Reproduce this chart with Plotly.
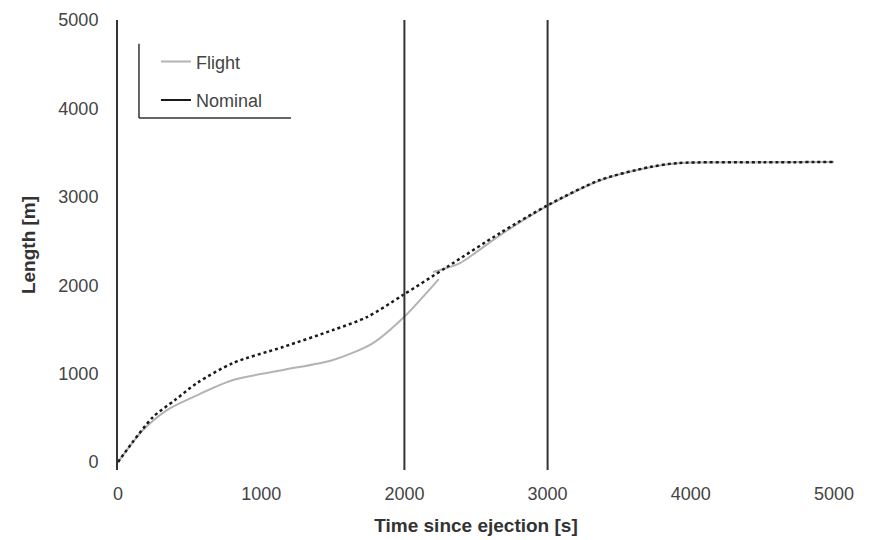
import plotly.graph_objects as go

# Data
nominal_t = [0, 100, 244, 398, 552, 803, 1152, 1501, 1739, 1990, 2297, 2668, 3003, 3366, 3715, 3911, 4500, 5000]
nominal_len = [0, 220, 509, 701, 894, 1120, 1301, 1493, 1640, 1889, 2206, 2590, 2907, 3190, 3337, 3382, 3390, 3394]

flight_t = [0, 175, 342, 524, 803, 1152, 1501, 1781, 1990, 2240, None, 2200, 2388, 2493, 2700, 3003, 3366, 3715, 3911, 4500, 5000]
flight_len = [0, 362, 588, 735, 928, 1041, 1154, 1346, 1629, 2070, None, 2150, 2251, 2364, 2600, 2900, 3185, 3335, 3380, 3390, 3394]

event_times = [2000, 3000]
x_ticks = [0, 1000, 2000, 3000, 4000, 5000]
y_ticks = [0, 1000, 2000, 3000, 4000, 5000]

FONT = "Liberation Sans, Arial, sans-serif"
FLIGHT_COLOR = "#b3b3b3"
NOMINAL_COLOR = "#1a1a1a"

fig = go.Figure()
fig.add_trace(go.Scatter(
    x=flight_t, y=flight_len, mode="lines", name="Flight", showlegend=False,
    line=dict(color=FLIGHT_COLOR, width=2, shape="spline", smoothing=0.8), connectgaps=False,
))
fig.add_trace(go.Scatter(
    x=nominal_t, y=nominal_len, mode="lines", name="Nominal", showlegend=False,
    line=dict(color=NOMINAL_COLOR, width=2.5, dash="dot", shape="spline", smoothing=0.8),
))
# legend entries (solid samples as in the reference)
fig.add_trace(go.Scatter(x=[None], y=[None], mode="lines", name="Flight",
                         line=dict(color=FLIGHT_COLOR, width=2), legendgroup="f"))
fig.add_trace(go.Scatter(x=[None], y=[None], mode="lines", name="Nominal",
                         line=dict(color=NOMINAL_COLOR, width=2), legendgroup="n"))

for t in event_times:
    fig.add_shape(type="line", xref="x", yref="paper", x0=t, x1=t, y0=0, y1=1,
                  line=dict(color="#333333", width=2))

# legend frame lines (left and bottom)
fig.add_shape(type="line", xref="paper", yref="paper", x0=0.0293, x1=0.0293, y0=0.782, y1=0.947,
              line=dict(color="#333333", width=1.5))
fig.add_shape(type="line", xref="paper", yref="paper", x0=0.0293, x1=0.2416, y0=0.782, y1=0.782,
              line=dict(color="#333333", width=1.5))

fig.update_layout(
    width=869, height=540,
    margin=dict(l=118, r=35, t=20, b=70),
    plot_bgcolor="white", paper_bgcolor="white",
    font=dict(family=FONT, size=18, color="#444444"),
    showlegend=True,
    legend=dict(
        x=0.053, y=0.948, xanchor="left", yanchor="top",
        bgcolor="rgba(0,0,0,0)", borderwidth=0,
        font=dict(size=18, color="#444444"),
        traceorder="grouped", tracegroupgap=12, itemwidth=30,
    ),
    xaxis=dict(
        range=[0, 5000], tickvals=x_ticks, showgrid=False, zeroline=False,
        showline=False, ticks="", ticklabelstandoff=11, automargin=False,
        tickfont=dict(size=18, color="#444444"),
        title=dict(text="<b>Time since ejection [s]</b>", font=dict(size=19, color="#333333"), standoff=15),
    ),
    yaxis=dict(
        range=[-90, 5000], tickvals=y_ticks, showgrid=False, zeroline=False,
        showline=True, linecolor="#333333", linewidth=2, ticks="", ticklabelstandoff=14, automargin=False,
        tickfont=dict(size=18, color="#444444"),
        title=dict(text="<b>Length [m]</b>", font=dict(size=19, color="#333333"), standoff=18),
    ),
)

fig.write_html("out.html")
